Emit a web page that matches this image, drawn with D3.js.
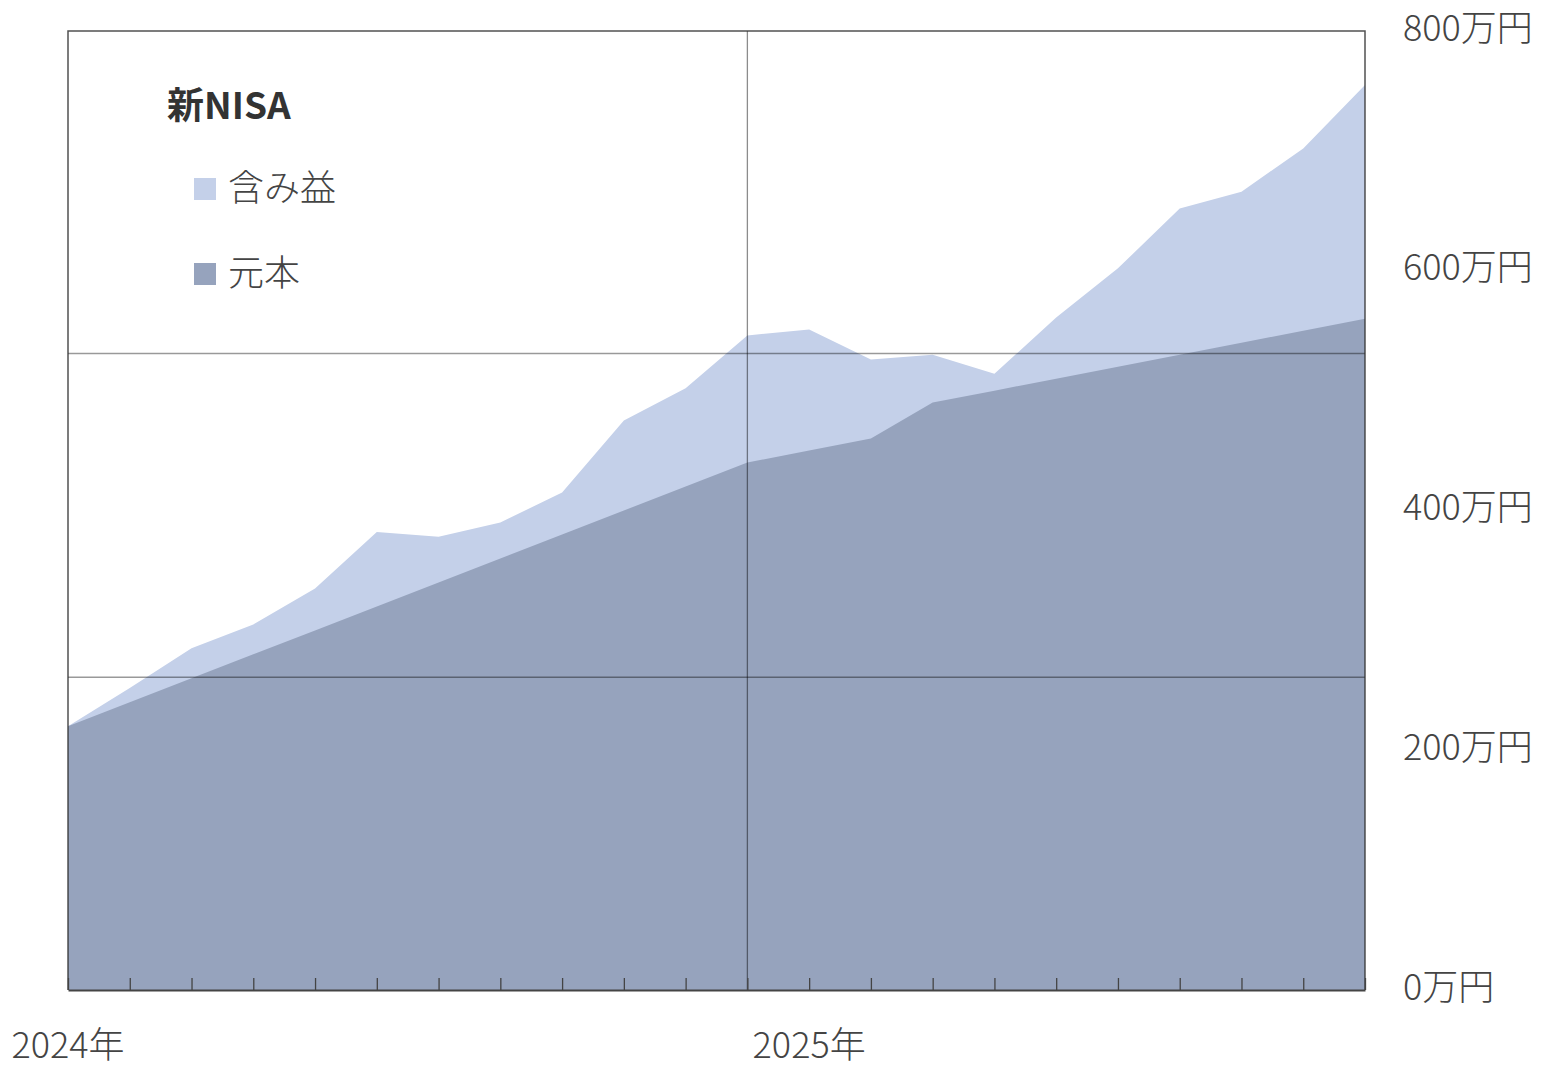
<!DOCTYPE html>
<html>
<head>
<meta charset="utf-8">
<script src="https://cdn.jsdelivr.net/npm/d3@7"></script>
<style>
  body { margin: 0; background: #fff; }
  svg { display: block; font-family: "Noto Sans CJK JP", "Noto Sans", sans-serif; }
</style>
</head>
<body>
<div id="root"></div>
<script>
// monthly points, 2024-01 .. 2025-10
var months = d3.range(22);
// 元本 (万円)
var principal = [220, 240, 260, 280, 300, 320, 340, 360, 380, 400, 420, 440,
  450, 460, 490, 500, 510, 520, 530, 540, 550, 560];
// 含み益 (万円), stacked on top of 元本
var gain = [0, 12, 25, 25, 35, 62, 38, 30, 35, 75, 82, 106,
  101, 66, 40, 14, 51, 82, 122, 126, 152, 195];
var yTicks = [0, 200, 400, 600, 800];
var gridValues = [261, 531];
var yearLabels = [{ i: 0, text: "2024年" }, { i: 12, text: "2025年" }];
var yearLine = 11;
var seriesNames = ["含み益", "元本"];
var colors = { "含み益": "#c4d0e9", "元本": "#96a3bd" };

var width = 1541;
var height = 1080;
// plot box (note: "top" is reserved on window, so use other names)
var plotL = 68, plotR = 1365, plotT = 31, plotB = 990;

var svg = d3
  .select("#root")
  .append("svg")
  .attr("width", width)
  .attr("height", height);

var xScale = d3.scaleLinear().domain([0, months.length - 1]).range([plotL, plotR]);
var yScale = d3.scaleLinear().domain([0, 800]).range([plotB, plotT]);

// stack principal + gain
var rows = months.map(function (m, i) {
  return { m: m, "元本": principal[i], "含み益": gain[i] };
});
var stacked = d3.stack().keys(["元本", "含み益"])(rows);

var area = d3
  .area()
  .x(function (d) { return xScale(d.data.m); })
  .y0(function (d) { return yScale(d[0]); })
  .y1(function (d) { return yScale(d[1]); });

// light layer filled from zero, dark layer on top of it
var areaFromZero = d3
  .area()
  .x(function (d) { return xScale(d.data.m); })
  .y0(yScale(0))
  .y1(function (d) { return yScale(d[1]); });

svg
  .selectAll(".layer")
  .data(stacked.slice().reverse())
  .enter()
  .append("path")
  .attr("class", "layer")
  .attr("fill", function (d) { return colors[d.key]; })
  .attr("d", function (d) {
    return d.key === "含み益" ? areaFromZero(d) : area(d);
  });

// grid lines drawn over the areas
svg
  .selectAll(".grid")
  .data(gridValues)
  .enter()
  .append("line")
  .attr("class", "grid")
  .attr("x1", plotL)
  .attr("x2", plotR)
  .attr("y1", function (d) { return yScale(d); })
  .attr("y2", function (d) { return yScale(d); })
  .attr("stroke", "#000")
  .attr("stroke-opacity", 0.4)
  .attr("stroke-width", 1.5);

svg
  .append("line")
  .attr("x1", xScale(yearLine))
  .attr("x2", xScale(yearLine))
  .attr("y1", plotT)
  .attr("y2", plotB)
  .attr("stroke", "#000")
  .attr("stroke-opacity", 0.45)
  .attr("stroke-width", 1.3);

// frame
svg
  .append("path")
  .attr("d", "M" + plotL + "," + plotB + "V" + plotT + "H" + plotR + "V" + plotB)
  .attr("fill", "none")
  .attr("stroke", "#333")
  .attr("stroke-opacity", 0.85)
  .attr("stroke-width", 1.5);

// bottom axis with inward ticks
var xAxis = d3
  .axisBottom(xScale)
  .tickValues(months)
  .tickSize(-12)
  .tickSizeOuter(0)
  .tickFormat("");
var gx = svg
  .append("g")
  .attr("transform", "translate(0," + plotB + ")")
  .call(xAxis);
gx.select(".domain").attr("stroke", "#444").attr("stroke-width", 2);
gx.selectAll(".tick line").attr("stroke", "#444").attr("stroke-width", 1.3);

svg
  .selectAll(".year")
  .data(yearLabels)
  .enter()
  .append("text")
  .attr("class", "year")
  .attr("x", function (d) { return xScale(d.i); })
  .attr("y", 1058)
  .attr("text-anchor", "middle")
  .attr("font-size", 36)
  .attr("font-weight", 300)
  .attr("fill", "#444")
  .text(function (d) { return d.text; });

// right value labels
svg
  .selectAll(".ylab")
  .data(yTicks)
  .enter()
  .append("text")
  .attr("class", "ylab")
  .attr("x", 1403)
  .attr("y", function (d) { return yScale(d); })
  .attr("dy", "0.27em")
  .attr("font-size", 36)
  .attr("font-weight", 300)
  .attr("fill", "#444")
  .text(function (d) { return d + "万円"; });

// legend
var legend = svg.append("g").attr("transform", "translate(167,0)");
legend
  .append("text")
  .attr("x", 0)
  .attr("y", 119)
  .attr("font-size", 37)
  .attr("font-weight", "bold")
  .attr("fill", "#333")
  .text("新NISA");

var items = legend
  .selectAll(".legend-item")
  .data(seriesNames)
  .enter()
  .append("g")
  .attr("class", "legend-item")
  .attr("transform", function (d, i) {
    return "translate(27," + (189 + i * 85) + ")";
  });
items
  .append("rect")
  .attr("x", 0)
  .attr("y", -11)
  .attr("width", 22)
  .attr("height", 22)
  .attr("fill", function (d) { return colors[d]; });
items
  .append("text")
  .attr("x", 34)
  .attr("y", 0)
  .attr("dy", "0.33em")
  .attr("font-size", 36)
  .attr("font-weight", 300)
  .attr("fill", "#444")
  .text(function (d) { return d; });
</script>
</body>
</html>
